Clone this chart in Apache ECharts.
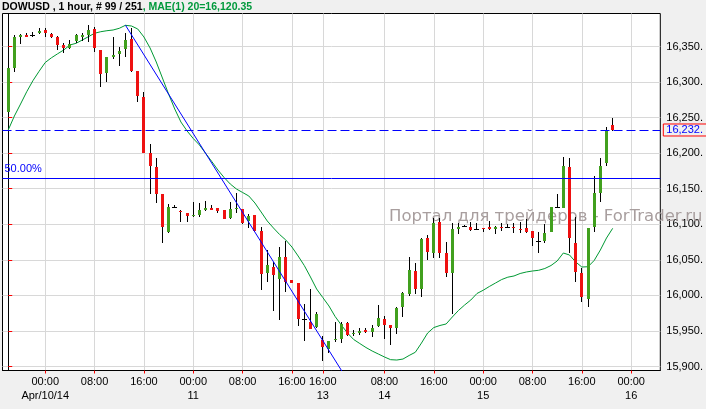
<!DOCTYPE html>
<html><head><meta charset="utf-8">
<script src="https://cdn.jsdelivr.net/npm/echarts@6/dist/echarts.min.js"></script>
<style>html,body{margin:0;padding:0;background:#f0f0f0;} #c{width:706px;height:409px;}</style>
</head><body><div id="c"></div>
<script>
const opens = [16257.5,16320.2,16363.8,16366.6,16366.6,16368.6,16373.2,16367.6,16363.8,16352.1,
16348.3,16357.7,16363.8,16366.2,16374.2,16345.1,16312.3,16335.7,16339.5,16346.1,
16360.6,16315.5,16278.6,16200.7,16181.0,16142.6,16089.6,16124.7,16118.7,16115.4,
16112.1,16113.0,16120.1,16123.3,16123.3,16120.1,16108.4,16121.5,16121.5,16105.0,
16113.0,16090.6,16031.1,16040.3,16023.0,16054.4,16021.6,16017.8,15966.8,15963.0,
15955.1,15937.3,15924.6,15938.3,15938.3,15960.8,15946.1,15947.5,15951.3,15948.9,
15957.0,15966.4,15958.4,15954.6,15984.1,16001.5,16034.7,16008.6,16081.1,16060.0,
16103.6,16060.0,16031.9,16092.9,16097.2,16095.8,16093.8,16095.2,16095.8,16093.4,
16096.6,16095.8,16096.6,16093.4,16095.2,16090.6,16075.8,16076.9,16089.6,16123.9,
16123.3,16181.0,16073.3,16031.1,15994.5,16095.8,16144.4,16185.8,16239.6];
const closes = [16319.3,16363.8,16366.2,16363.4,16366.6,16371.4,16369.4,16363.4,16352.5,16348.3,
16353.5,16366.2,16366.6,16373.2,16348.3,16310.9,16335.7,16338.5,16344.1,16359.1,
16315.5,16280.4,16199.8,16182.0,16142.6,16095.8,16123.9,16124.7,16116.8,16112.1,
16113.0,16120.1,16123.3,16120.1,16119.1,16107.4,16121.5,16123.3,16101.4,16111.6,
16091.0,16030.1,16042.7,16028.7,16054.4,16018.4,16017.8,15966.8,15966.8,15952.7,
15973.8,15927.8,15935.9,15939.1,15959.8,15944.3,15947.1,15949.9,15948.9,15954.1,
15968.2,15958.4,15953.7,15981.8,16003.8,16035.7,16009.0,16079.3,16061.4,16102.2,
16060.0,16031.9,16092.9,16096.6,16097.2,16092.0,16093.8,16093.8,16093.4,16096.2,
16095.2,16095.8,16094.8,16092.0,16089.6,16080.3,16075.8,16087.7,16123.9,16123.9,
16182.0,16081.1,16033.3,15998.2,16095.2,16143.6,16182.0,16231.6,16232.6];
const highs = [16341.3,16366.2,16366.9,16368.6,16370.0,16375.6,16375.6,16369.4,16364.8,16354.5,
16359.1,16367.6,16368.6,16380.2,16377.0,16345.1,16335.7,16363.8,16348.9,16368.6,
16375.6,16315.5,16286.4,16212.9,16192.8,16142.6,16128.5,16127.1,16120.1,16115.4,
16131.8,16130.3,16132.7,16127.1,16123.3,16120.1,16131.8,16144.4,16121.5,16114.5,
16113.0,16096.6,16063.8,16047.4,16068.5,16076.9,16021.6,16017.8,15987.9,16008.6,
15977.1,15942.9,15935.9,15963.0,15962.2,15962.2,15951.3,15953.7,15953.7,15957.7,
15986.5,15971.0,15958.4,15983.3,16005.2,16054.4,16045.1,16080.3,16084.9,16108.4,
16108.4,16075.5,16101.4,16101.4,16099.0,16103.6,16102.2,16095.2,16104.6,16097.6,
16101.4,16100.0,16101.4,16103.6,16107.0,16090.6,16089.1,16100.4,16124.7,16142.6,
16195.0,16192.8,16110.7,16038.1,16095.2,16167.9,16192.8,16237.2,16249.0];
const lows = [16256.5,16314.6,16353.5,16362.9,16363.8,16367.6,16363.8,16361.5,16345.1,16341.3,
16346.1,16355.3,16358.2,16356.8,16342.7,16293.5,16300.5,16332.0,16323.0,16335.7,
16314.6,16272.4,16199.8,16142.6,16129.5,16073.3,16088.2,16122.5,16103.6,16102.8,
16110.7,16110.7,16119.1,16119.5,16116.3,16107.0,16107.4,16115.4,16100.4,16094.3,
16091.0,16007.6,16019.3,15978.5,15965.4,16005.2,16017.8,15957.0,15936.3,15952.7,
15953.7,15908.2,15918.6,15934.9,15933.5,15942.9,15942.9,15944.3,15947.5,15940.8,
15956.0,15938.3,15930.2,15945.7,15970.0,15999.1,16002.0,15998.2,16049.8,16053.0,
16053.0,16026.3,15973.8,16085.9,16095.8,16091.0,16092.9,16089.6,16092.0,16085.9,
16091.0,16094.3,16088.2,16088.2,16088.2,16069.5,16060.0,16073.3,16088.7,16122.9,
16122.5,16059.2,16019.3,15991.1,15984.1,16088.7,16131.8,16182.0,16231.6];
const ma20 = [16232.6,16252.3,16269.1,16286.4,16301.9,16315.1,16327.5,16334.1,16339.7,16345.1,
16352.1,16354.5,16359.1,16363.8,16368.6,16370.8,16372.2,16373.2,16375.6,16379.8,
16378.8,16374.6,16363.4,16347.9,16328.2,16305.7,16283.2,16262.1,16243.8,16231.2,
16220.6,16211.5,16199.8,16188.3,16176.3,16165.8,16156.6,16149.6,16144.7,16139.8,
16129.9,16117.3,16104.6,16094.8,16085.6,16077.9,16068.0,16055.4,16042.0,16025.9,
16009.0,15997.0,15985.1,15970.3,15958.4,15947.1,15938.0,15932.3,15926.7,15921.8,
15917.6,15913.4,15909.6,15909.1,15910.5,15915.5,15920.0,15933.0,15947.1,15954.8,
15957.7,15959.8,15969.6,15978.8,15986.5,15993.5,16002.7,16007.2,16012.5,16017.4,
16022.3,16025.6,16027.3,16030.8,16032.9,16034.3,16035.3,16037.8,16042.0,16048.4,
16059.6,16056.8,16047.0,16039.9,16040.3,16049.1,16063.8,16080.7,16094.3];
const trendBars = [19, 55];
const trendPrices = [16380, 15881];
const fiftyPctLevel = 16165;
const xTickBars = [6,14,22,30,38,46,51,61,69,77,85,93,101];
const xTickTimes = ['00:00','08:00','16:00','00:00','08:00','16:00','16:00','08:00','16:00','00:00','08:00','16:00','00:00'];
const xTickDates = ['Apr/10/14','','','11','','','13','14','','15','','','16'];
const yTicks = [15900,15950,16000,16050,16100,16150,16200,16250,16300,16350];

const FONT = '"Liberation Sans", Arial, sans-serif';
const UP = '#41a01e', DOWN = '#ee1111';
const fmtPrice = v => { const n = Math.floor(v); return Math.floor(n/1000) + ',' + String(n%1000).padStart(3,'0') + '.'; };
const candleData = opens.map((o,i)=>[i, o, closes[i], lows[i], highs[i]]);
const maData = ma20.map((v,i)=>[i, v]);
const trendData = trendBars.map((b,i)=>[b, trendPrices[i]]);

function renderCandle(params, api){
  const i = api.value(0), o = api.value(1), c = api.value(2), l = api.value(3), h = api.value(4);
  const pO = api.coord([i,o]), pC = api.coord([i,c]), pL = api.coord([i,l]), pH = api.coord([i,h]);
  const cx = Math.floor(pO[0]);
  const wt = Math.round(pH[1]), wb = Math.round(pL[1]);
  const children = [{type:'rect', shape:{x:cx, y:wt, width:1, height:Math.max(1, wb-wt)}, style:{fill:'#000'}}];
  if (o === c) {
    children.push({type:'rect', shape:{x:cx-2, y:Math.round(pO[1]), width:5, height:1}, style:{fill:'#000'}});
  } else {
    const t = Math.round(Math.min(pO[1],pC[1])), b = Math.round(Math.max(pO[1],pC[1]));
    children.push({type:'rect', shape:{x:cx-1, y:t, width:3, height:Math.max(1,b-t)}, style:{fill: c>o?UP:DOWN}});
  }
  return {type:'group', children};
}

const chart = echarts.init(document.getElementById('c'), null, {renderer:'canvas', width:706, height:409});
chart.setOption({
  animation: false,
  backgroundColor: '#f0f0f0',
  title: {
    text: '{a|DOWUSD , 1 hour, # ' + opens.length + ' / 251}{b|, MAE(1) 20=16,120.35}',
    left: 2, top: 0, padding: 0,
    textStyle: { rich: {
      a: {color:'#000', fontSize: 10.5, fontFamily: FONT, lineHeight: 14},
      b: {color:'#00993c', fontSize: 10.5, fontFamily: FONT, lineHeight: 14}
    }}
  },
  grid: {left: 2.5, top: 13.5, width: 662, height: 357, show: true, backgroundColor: '#fff', borderColor: '#000', borderWidth: 1, containLabel: false},
  xAxis: {
    type: 'value', min: -0.928, max: 105.72,
    axisLine: {show: true, lineStyle: {color: '#000', width: 1}},
    axisTick: {show: true, length: 3, lineStyle: {color: '#ff0000'}, customValues: xTickBars},
    axisLabel: {
      show: true, customValues: xTickBars, margin: 4, fontSize: 11, fontFamily: FONT, color: '#000', lineHeight: 14.5,
      formatter: v => { const k = xTickBars.indexOf(Math.round(v)); if (k < 0) return ''; return xTickDates[k] ? xTickTimes[k] + '\n' + xTickDates[k] : xTickTimes[k]; }
    },
    splitLine: {show: true, lineStyle: {color: '#d8d8d8', width: 1}}
  },
  yAxis: {
    type: 'value', position: 'right', min: 15894.375, max: 16396.41,
    axisLine: {show: true, lineStyle: {color: '#000', width: 1}},
    axisTick: {show: true, length: 4, lineStyle: {color: '#ff0000'}, customValues: yTicks},
    axisLabel: {show: true, customValues: yTicks, margin: 6, fontSize: 11, fontFamily: FONT, color: '#000', padding: [4,0,0,0], formatter: v => fmtPrice(v)},
    splitLine: {show: true, lineStyle: {color: '#d8d8d8', width: 1}}
  },
  graphic: [{
    type: 'text', x: 389, y: 216.5, z: 1, silent: true,
    style: {text: 'Портал для трейдеров - ForTrader.ru', fill: '#a89e9e', font: '16.5px "DejaVu Sans"', align: 'left', verticalAlign: 'middle'}
  }],
  series: [
    {type: 'line', name: 'MAE', data: maData, showSymbol: false, symbol: 'none', lineStyle: {color: '#009933', width: 1}, z: 3, silent: true},
    {type: 'custom', name: 'DOWUSD', data: candleData, renderItem: renderCandle, encode: {x: 0, y: [1,2,3,4]}, z: 4, silent: true},
    {type: 'line', name: 'trend', data: trendData, showSymbol: false, symbol: 'none', lineStyle: {color: '#0000ff', width: 1}, z: 5, silent: true, clip: true,
      markLine: {
        symbol: ['none','none'], silent: true,
        data: [
          {yAxis: closes[closes.length-1], lineStyle: {color: '#0000ff', type: [9,4], width: 1},
            label: {show: true, position: 'end', distance: 3, formatter: p => fmtPrice(p.value), color: '#0000ff', fontSize: 11, fontFamily: FONT, borderColor: '#ff0000', borderWidth: 1, padding: [1,4,0,3], lineHeight: 11}},
          {yAxis: fiftyPctLevel, lineStyle: {color: '#0000ff', type: 'solid', width: 1},
            label: {show: true, position: 'insideStartTop', distance: [2, 4], formatter: '50.00%', color: '#0000ff', fontSize: 11, fontFamily: FONT}}
        ]
      }
    }
  ]
});
</script>
</body></html>
